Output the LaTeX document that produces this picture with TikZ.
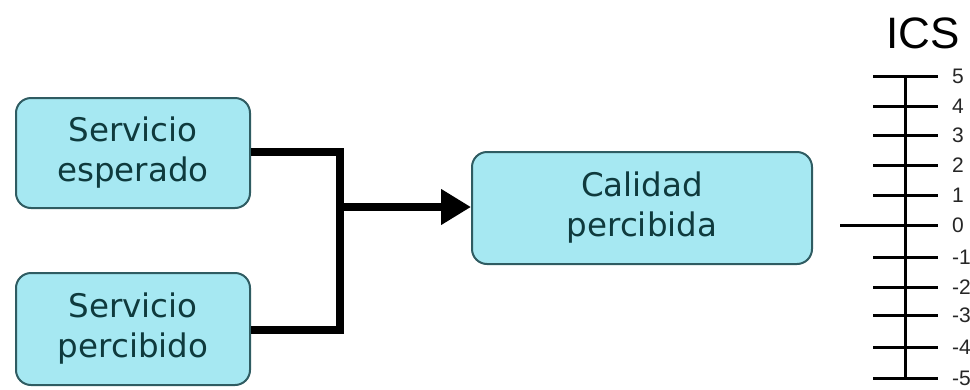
\documentclass[tikz,border=0pt]{standalone}
\usepackage{fontspec}
\setmainfont{DejaVu Sans}
\newfontfamily\arialf{Liberation Sans}
\usetikzlibrary{arrows.meta}
\definecolor{boxfill}{HTML}{A6E8F2}
\definecolor{boxdraw}{HTML}{2F5C62}
\definecolor{boxtext}{HTML}{0F3A3D}
\tikzset{
  sbox/.style={draw=boxdraw, line width=2pt, fill=boxfill, rounded corners=15pt,
    text=boxtext, font=\fontsize{32.5}{40}\selectfont, align=center, inner sep=0pt},
  conn/.style={line width=8pt, black},
  tickl/.style={line width=3pt, black},
  tlab/.style={anchor=west, inner sep=0pt, font=\arialf\fontsize{21}{21}\selectfont, text=black!85}
}
\begin{document}
\begin{tikzpicture}[x=1pt,y=-1pt]
\useasboundingbox (0,0) rectangle (970,389);
\node[sbox, minimum width=234pt, minimum height=110pt] (se) at (133,153) {Servicio\\esperado};
\node[sbox, minimum width=234pt, minimum height=112pt] (sp) at (133,329) {Servicio\\percibido};
\node[sbox, minimum width=340pt, minimum height=112pt] (cp) at (642,208) {Calidad\\percibida};
\coordinate (j1) at (340,152);
\coordinate (j2) at (340,330);
\coordinate (jm) at (340,207);
\draw[conn, line join=miter] (se.east |- j1) -- (j1) -- (j2) -- (sp.east |- j2);
\draw[conn, -{Triangle[length=30pt,width=34pt]}] (jm) -- (cp.west |- jm);
% scale
\node[font=\arialf\fontsize{44}{44}\selectfont, inner sep=0pt] (ics) at (923,33) {ICS};
\coordinate (vtop) at (905,76);
\coordinate (vbot) at (905,378);
\draw[tickl] (vtop) -- (vbot);
\foreach \v/\y in {5/76,4/106,3/135,2/165,1/195,0/225,-1/257,-2/287,-3/315,-4/347,-5/378}{
  \draw[tickl] (873,\y) -- (938,\y);
  \node[tlab] (lab\v) at (952,\y) {\v};
}
\draw[tickl] (840,225) -- (873,225);
\end{tikzpicture}
\end{document}
